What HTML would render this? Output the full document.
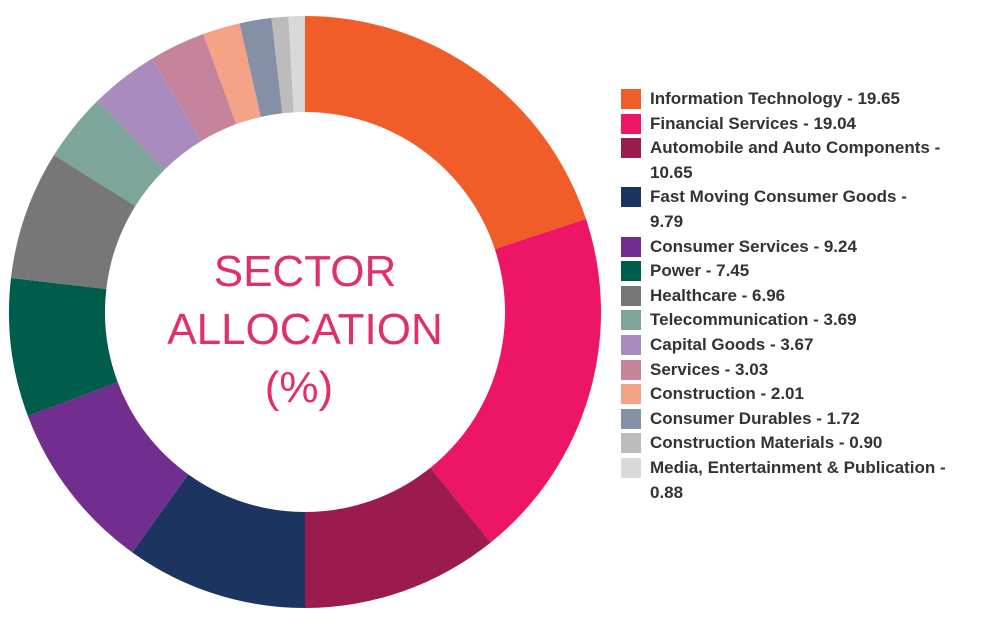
<!DOCTYPE html>
<html><head><meta charset="utf-8"><style>
body{margin:0;background:#fff;width:1008px;height:625px;overflow:hidden;font-family:"Liberation Sans",sans-serif}
#legend{position:absolute;left:621px;top:87px;width:380px}
.row{position:relative;padding-left:29px;font-weight:bold;font-size:17px;line-height:24.6px;color:#333}
.sw{position:absolute;left:0;top:2px;width:20px;height:20px}
</style></head><body>
<svg id="chart" width="620" height="625" style="position:absolute;left:0;top:0">
<g id="slices"></g>
<text x="305" y="286" text-anchor="middle" font-size="44" fill="#e0306a" font-family="Liberation Sans">SECTOR</text>
<text x="305" y="344" text-anchor="middle" font-size="44" fill="#e0306a" font-family="Liberation Sans">ALLOCATION</text>
<text x="299" y="402" text-anchor="middle" font-size="44" fill="#e0306a" font-family="Liberation Sans">(%)</text>
</svg>
<div id="legend"></div>
<script>
const categories=["Information Technology","Financial Services","Automobile and Auto Components","Fast Moving Consumer Goods","Consumer Services","Power","Healthcare","Telecommunication","Capital Goods","Services","Construction","Consumer Durables","Construction Materials","Media, Entertainment & Publication"];
const values=[19.65,19.04,10.65,9.79,9.24,7.45,6.96,3.69,3.67,3.03,2.01,1.72,0.90,0.88];
const labels=["19.65","19.04","10.65","9.79","9.24","7.45","6.96","3.69","3.67","3.03","2.01","1.72","0.90","0.88"];
const colors=["#f15d28","#ec1566","#9b1b4e","#1b3560","#712e8f","#005c4b","#777777","#7da59a","#a98bbd","#c5849b","#f6a287","#8590a7","#bcbcbc","#d9d9d9"];
const cx=305,cy=312,R=296,r=200;
const total=values.reduce((a,b)=>a+b,0);
function ang(v){return v/total*2*Math.PI;}
function pt(a,rad){return [cx+rad*Math.sin(a),cy-rad*Math.cos(a)];}
const g=document.getElementById('slices');
let a0=0;
values.forEach((v,i)=>{
 const a1=a0+ang(v);const large=(a1-a0)>Math.PI?1:0;
 const p1=pt(a0,R),p2=pt(a1,R),p3=pt(a1,r),p4=pt(a0,r);
 const p=document.createElementNS('http://www.w3.org/2000/svg','path');
 p.setAttribute('d',`M${p1}A${R},${R} 0 ${large} 1 ${p2}L${p3}A${r},${r} 0 ${large} 0 ${p4}Z`);
 p.setAttribute('fill',colors[i]);
 
 
 g.appendChild(p);a0=a1;
});
const lg=document.getElementById('legend');
const wraps={2:true,3:true,13:true};
categories.forEach((c,i)=>{
 const d=document.createElement('div');d.className='row';
 
 
 const s=document.createElement('span');s.className='sw';s.style.background=colors[i];
 
 
 d.appendChild(s);
 if(wraps[i]){d.appendChild(document.createTextNode(c+' -'));d.appendChild(document.createElement('br'));d.appendChild(document.createTextNode(labels[i]));}
 else d.appendChild(document.createTextNode(c+' - '+labels[i]));
 lg.appendChild(d);
});
</script>
</body></html>
